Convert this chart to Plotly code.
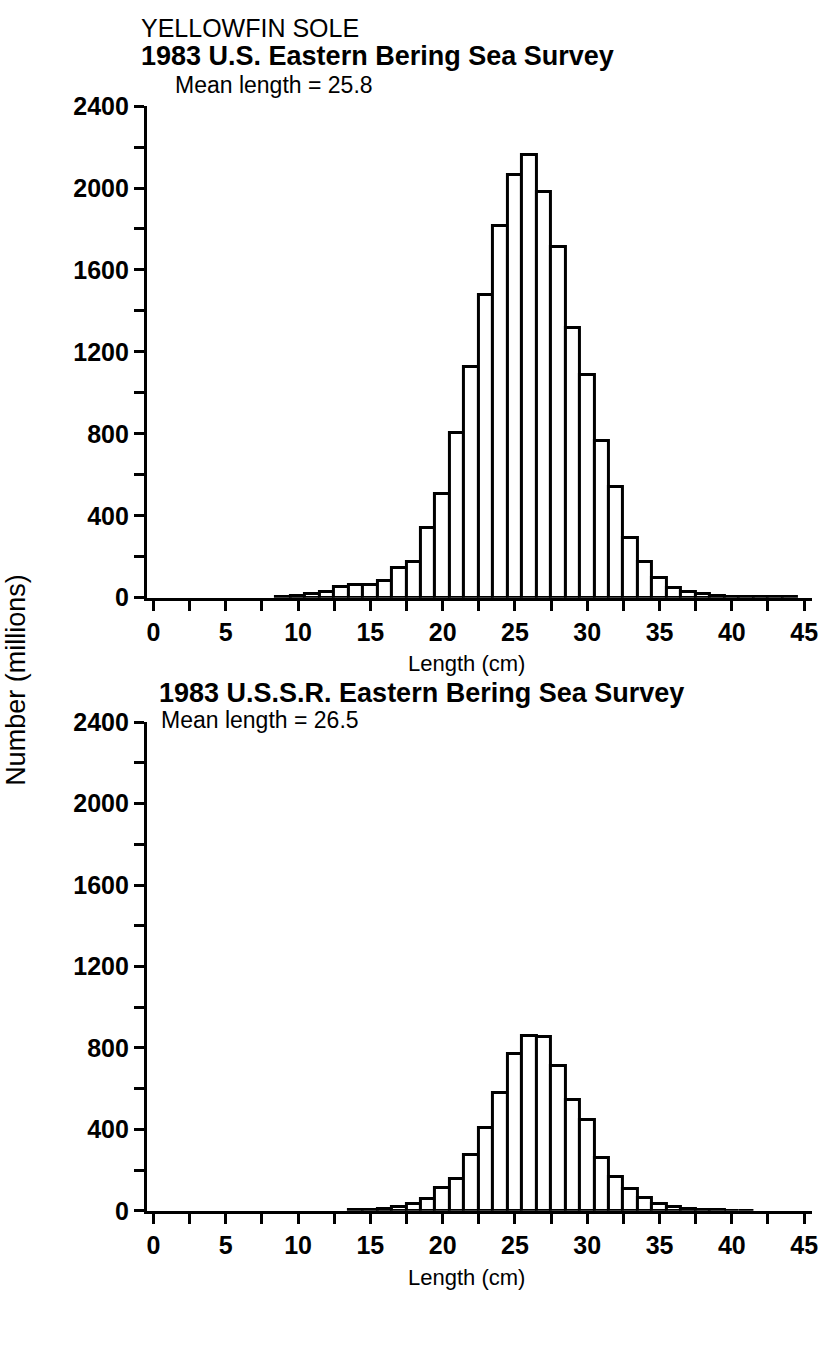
import plotly.graph_objects as go

# ---- data ----
us_lengths = list(range(9, 45))
us_numbers = [5, 10, 18, 28, 54, 62, 62, 83, 143, 176, 341, 504, 802, 1127, 1476, 1815,
              2062, 2160, 1980, 1712, 1314, 1086, 764, 541, 289, 176, 98, 49, 29, 16,
              6, 3, 2, 1, 1, 1]
ussr_lengths = list(range(14, 42))
ussr_numbers = [2, 4, 8, 18, 35, 60, 110, 155, 275, 405, 580, 768, 860, 855, 713, 545,
                445, 258, 165, 105, 62, 33, 18, 8, 4, 2, 1, 1]

y_tickvals = list(range(0, 2401, 200))
y_ticktext = ["<b>%d</b>" % v if v % 400 == 0 else "" for v in y_tickvals]
x_tickvals = [i * 2.5 for i in range(0, 19)]
x_ticktext = ["<b>%d</b>" % v if v % 5 == 0 else "" for v in x_tickvals]

W, H = 831, 1359
FONT = "Liberation Sans"

def px_x(p):
    return p / W

def px_y(p):
    return 1 - p / H

fig = go.Figure()
bar_style = dict(marker=dict(color="white", line=dict(color="black", width=3)),
                 width=1.0, showlegend=False, hoverinfo="x+y")
fig.add_trace(go.Bar(x=us_lengths, y=us_numbers, xaxis="x", yaxis="y", **bar_style))
fig.add_trace(go.Bar(x=ussr_lengths, y=ussr_numbers, xaxis="x2", yaxis="y2", **bar_style))

xdom = [px_x(148), px_x(818)]
axis_common = dict(showline=True, linecolor="black", linewidth=3, ticks="outside",
                   ticklen=10, tickwidth=3, tickcolor="black", showgrid=False,
                   zeroline=False, tickfont=dict(family=FONT, size=25, color="black"))
xr = [-0.45, 45.55]
fig.update_layout(
    width=W, height=H, margin=dict(l=0, r=0, t=0, b=0),
    paper_bgcolor="white", plot_bgcolor="white", bargap=0,
    xaxis=dict(domain=xdom, range=xr, tickvals=x_tickvals, ticktext=x_ticktext,
               anchor="y", **axis_common),
    yaxis=dict(domain=[px_y(596), px_y(94)], range=[0, 2400], tickvals=y_tickvals,
               ticktext=y_ticktext, anchor="x", **axis_common),
    xaxis2=dict(domain=xdom, range=xr, tickvals=x_tickvals, ticktext=x_ticktext,
                anchor="y2", **axis_common),
    yaxis2=dict(domain=[px_y(1222), px_y(723)], range=[0, 2400], tickvals=y_tickvals,
                ticktext=y_ticktext, anchor="x2", **axis_common),
)

def note(text, x, y, size=21, bold=False, xanchor="left", angle=0):
    fig.add_annotation(text=("<b>%s</b>" % text) if bold else text,
                       x=px_x(x), y=px_y(y), xref="paper", yref="paper",
                       xanchor=xanchor, yanchor="middle", showarrow=False,
                       textangle=angle,
                       font=dict(family=FONT, size=size, color="black"))

note("YELLOWFIN SOLE", 140, 14, size=25)
note("1983 U.S. Eastern Bering Sea Survey", 140, 43, size=27, bold=True)
note("Mean length = 25.8", 174, 72, size=23)
note("Length (cm)", 470, 663, size=22, xanchor="center")

note("1983 U.S.S.R. Eastern Bering Sea Survey", 158, 693, size=27, bold=True)
note("Mean length = 26.5", 160, 721, size=23)
note("Length (cm)", 470, 1290, size=22, xanchor="center")

note("Number (millions)", 16, 680, size=27, xanchor="center", angle=-90)

fig.write_html("out.html", post_script="document.body.style.margin='0';",
               config={"displayModeBar": False})
